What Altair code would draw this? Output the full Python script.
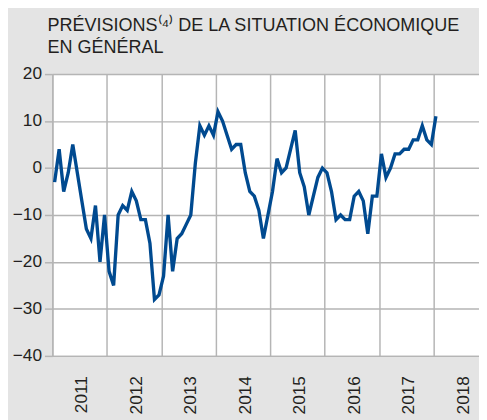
import altair as alt
import pandas as pd

# Monthly survey balance, Jan 2011 .. Jan 2018
start_year = 2011
values_2011 = [-3, 4, -5, -1, 5, -1, -7, -13, -15, -8, -20, -10]
values_2012 = [-22, -25, -10, -8, -9, -5, -7, -11, -11, -16, -28, -27]
values_2013 = [-23, -10, -22, -15, -14, -12, -10, 1, 9, 7, 9, 7]
values_2014 = [12, 10, 7, 4, 5, 5, -1, -5, -6, -9, -15, -10]
values_2015 = [-5, 2, -1, 0, 4, 8, -1, -4, -10, -6, -2, 0]
values_2016 = [-1, -5, -11, -10, -11, -11, -6, -5, -7, -14, -6, -6]
values_2017 = [3, -2, 0, 3, 3, 4, 4, 6, 6, 9, 6, 5]
values_2018 = [11]

year_ticks = [2011, 2012, 2013, 2014, 2015, 2016, 2017, 2018]
y_ticks = [-40, -30, -20, -10, 0, 10, 20]
title_lines = ["PRÉVISIONS⁽⁴⁾ DE LA SITUATION ÉCONOMIQUE", "EN GÉNÉRAL"]

series = (values_2011 + values_2012 + values_2013 + values_2014 +
          values_2015 + values_2016 + values_2017 + values_2018)
df = pd.DataFrame({
    "t": [start_year + (i + 0.5) / 12 for i in range(len(series))],
    "v": series,
})

FONT = "Liberation Sans"
GRID = "#b5b5b5"
TXT = "#231f20"

line = alt.Chart(df).mark_line(color="#004a90", strokeWidth=3.4, strokeJoin="miter").encode(
    x=alt.X("t:Q",
            scale=alt.Scale(domain=[2011, 2018.833], nice=False, zero=False),
            axis=alt.Axis(values=year_ticks, format="d", title=None, labelAngle=-90,
                          labelOffset=30, labelPadding=20, ticks=False,
                          grid=True, gridColor=GRID, gridWidth=1.5,
                          domain=True, domainColor=GRID, domainWidth=1.5,
                          labelFont=FONT, labelFontSize=17.5, labelColor=TXT)),
    y=alt.Y("v:Q",
            scale=alt.Scale(domain=[-40, 20], nice=False, zero=False),
            axis=alt.Axis(values=y_ticks, title=None, tickSize=8, tickColor=GRID,
                          tickWidth=1.5, labelPadding=3,
                          grid=True, gridColor=GRID, gridWidth=1.5,
                          domain=True, domainColor=GRID, domainWidth=1.5,
                          labelFont=FONT, labelFontSize=17.5, labelColor=TXT)),
)

chart = line.properties(
    width=433,
    height=286,
    autosize=alt.AutoSizeParams(type="none"),
    padding={"left": 45, "top": 64, "right": 0, "bottom": 62},
    background="#e4e4e4",
    title=alt.TitleParams(title_lines, anchor="start", frame="group", dx=-5,
                          fontSize=18.3, fontWeight="normal", font=FONT,
                          color=TXT, lineHeight=22, offset=8),
).configure_view(fill="white", strokeWidth=0)

chart.save("out.html", embed_options={"renderer": "svg", "actions": False})
